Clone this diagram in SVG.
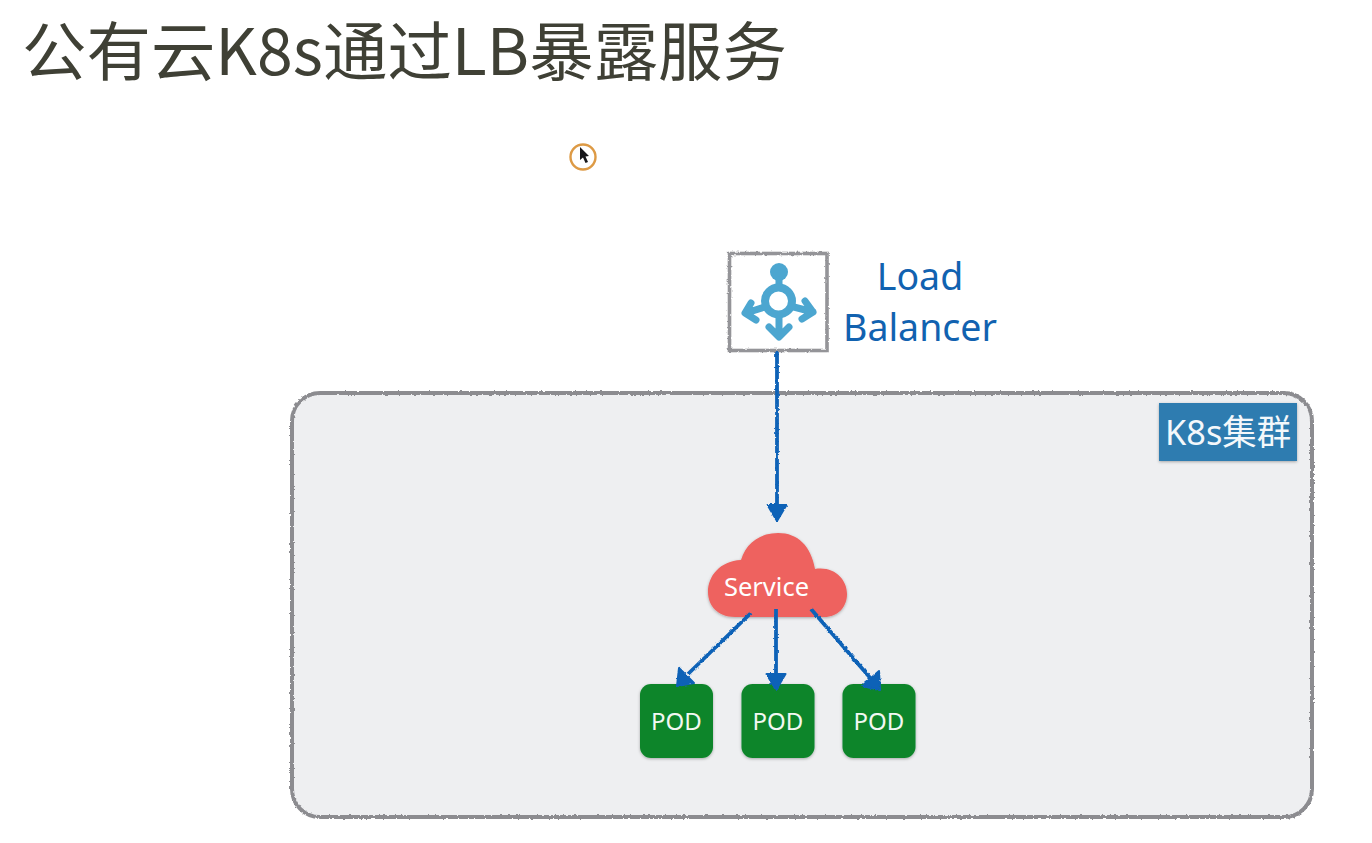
<svg xmlns="http://www.w3.org/2000/svg" width="1372" height="843" viewBox="0 0 1372 843">
<style>
text{font-family:"Noto Sans","Noto Sans CJK SC","Open Sans",sans-serif}
.title{font-size:64px;fill:#3f4035;font-weight:400;font-family:"Noto Sans CJK SC","Noto Sans",sans-serif}
.lb{font-size:37.500px;fill:#1162b0;text-anchor:middle}
.pod{fill:#0b8529;filter:url(#shadow)}
.podt{font-size:24px;fill:#f2f8f2;text-anchor:middle}
.wire{fill:none;stroke:#1162b7;stroke-width:3.800;filter:url(#rough)}
.ah{fill:#1162b7;stroke:#1162b7;stroke-width:2;stroke-linejoin:round;filter:url(#rough)}
.ic{fill:none;stroke:#4ca6d0;stroke-width:7;stroke-linecap:round;stroke-linejoin:round}
</style>
<defs>
<filter id="rough" filterUnits="userSpaceOnUse" x="0" y="0" width="1372" height="843"><feTurbulence type="fractalNoise" baseFrequency="0.35" numOctaves="2" seed="4"/><feDisplacementMap in="SourceGraphic" scale="2.8" xChannelSelector="R" yChannelSelector="G"/></filter>
<filter id="shadow" x="-10%" y="-10%" width="120%" height="125%"><feDropShadow dx="0" dy="1" stdDeviation="1.500" flood-color="#000" flood-opacity="0.3"/></filter>
</defs>
<rect width="1372" height="843" fill="#fff"/>
<text class="title" x="22" y="75" textLength="765" lengthAdjust="spacingAndGlyphs">公有云K8s通过LB暴露服务</text>
<g id="cursor">
<circle cx="583" cy="157" r="12.500" fill="#fff" stroke="#dd9a45" stroke-width="2.400"/>
<path d="M580 147 L580 160 L583 157.500 L585.500 163 L588 162 L585.500 156.500 L589 156 Z" fill="#17171a"/>
</g>
<g id="cluster">
<rect x="292" y="393" width="1020" height="424" rx="28" fill="#eeeff1" stroke="#8c8c90" stroke-width="4" filter="url(#rough)"/>
<rect x="1159" y="403" width="138" height="58" fill="#2f7bb0" filter="url(#shadow)"/>
<text x="1228" y="445" font-size="35" fill="#f4f8fb" text-anchor="middle" textLength="126" lengthAdjust="spacingAndGlyphs">K8s集群</text>
</g>
<g id="load-balancer">
<rect x="729.500" y="253.500" width="97.500" height="97" fill="#fff" stroke="#949498" stroke-width="3.600" filter="url(#rough)"/>
<circle cx="779" cy="272" r="9" fill="#4ca6d0"/>
<path class="ic" d="M779 280V290M779 314V335M768 306L746 313M790 306L813 312M769 327L779 337L789 327M751 303L745 313L756 320M805 301L813 312L802 319"/>
<circle cx="778.500" cy="301" r="13.500" fill="#fff" stroke="#4ca6d0" stroke-width="8"/>
<text class="lb" x="920" y="290">Load</text>
<text class="lb" x="920" y="341">Balancer</text>
</g>
<g id="service">
<path d="M735 617 C718 617 708 606 708 592 C708 576 720 561 741 560 C746 543 760 533 778 533 C798 533 811 546 815 569 C835 566 847 580 847 594 C847 607 838 617 824 617 Z" fill="#ee625e" filter="url(#shadow)"/>
<text x="766.500" y="596" font-size="25.500" fill="#fff" text-anchor="middle">Service</text>
</g>
<g id="pod-1"><rect class="pod" x="640" y="684" width="73" height="74" rx="11"/><text class="podt" x="676.500" y="730">POD</text></g>
<g id="pod-2"><rect class="pod" x="741.500" y="684" width="73" height="74" rx="11"/><text class="podt" x="778" y="730">POD</text></g>
<g id="pod-3"><rect class="pod" x="842.500" y="684" width="73" height="74" rx="11"/><text class="podt" x="879" y="730">POD</text></g>
<g id="connectors">
<path class="wire" d="M777 351V510"/>
<path class="ah" d="M767.500 505L786.500 505L777 521Z"/>
<path class="wire" d="M751 613L688 674"/>
<path class="ah" d="M679 668L694 683L677 686Z"/>
<path class="wire" d="M776 609V680"/>
<path class="ah" d="M766.500 674L785.500 674L776 690Z"/>
<path class="wire" d="M811 609L872 680"/>
<path class="ah" d="M879 671L880 690L862 686Z"/>
</g>
</svg>
